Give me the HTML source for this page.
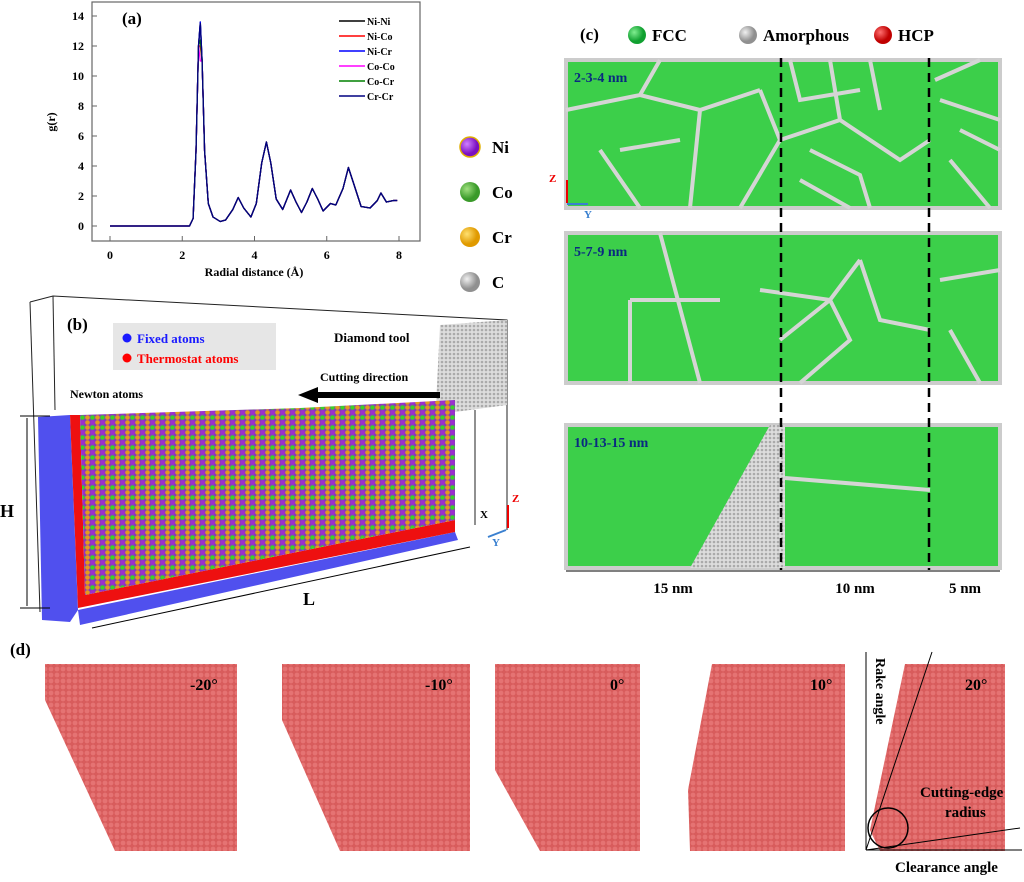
<!DOCTYPE html>
<html><head><meta charset="utf-8"><style>
body{margin:0;background:#fff;width:1024px;height:877px;overflow:hidden;font-family:"Liberation Serif",serif}
svg text{font-family:"Liberation Serif",serif;font-weight:bold}
</style></head><body>
<svg width="1024" height="877" viewBox="0 0 1024 877">
<defs>
<pattern id="mix" width="10" height="10" patternUnits="userSpaceOnUse">
<rect width="10" height="10" fill="#8a3ab8"/>
<circle cx="2.5" cy="2.5" r="2.3" fill="#9a2fd0"/><circle cx="7.5" cy="2.5" r="2.3" fill="#e39a20"/>
<circle cx="2.5" cy="7.5" r="2.3" fill="#3ccf2a"/><circle cx="7.5" cy="7.5" r="2.3" fill="#e39a20"/>
</pattern>
<pattern id="gry" width="4" height="4" patternUnits="userSpaceOnUse"><rect width="4" height="4" fill="#ddd"/><circle cx="2" cy="2" r="1.3" fill="#aaa"/></pattern>
<pattern id="redp" width="6" height="6" patternUnits="userSpaceOnUse"><rect width="6" height="6" fill="#d85c5c"/><circle cx="3" cy="3" r="2.4" fill="#e57373"/></pattern>
<radialGradient id="gPu" cx="35%" cy="35%"><stop offset="0" stop-color="#d080ff"/><stop offset="1" stop-color="#7a10c0"/></radialGradient>
<radialGradient id="gGr" cx="35%" cy="35%"><stop offset="0" stop-color="#a0e080"/><stop offset="1" stop-color="#3a9a2a"/></radialGradient>
<radialGradient id="gOr" cx="35%" cy="35%"><stop offset="0" stop-color="#ffe070"/><stop offset="1" stop-color="#e09a00"/></radialGradient>
<radialGradient id="gGy" cx="35%" cy="35%"><stop offset="0" stop-color="#f0f0f0"/><stop offset="1" stop-color="#909090"/></radialGradient>
<radialGradient id="gFcc" cx="35%" cy="35%"><stop offset="0" stop-color="#80ee90"/><stop offset="1" stop-color="#10a030"/></radialGradient>
<radialGradient id="gRed" cx="35%" cy="35%"><stop offset="0" stop-color="#ff7070"/><stop offset="1" stop-color="#c00000"/></radialGradient>
</defs>

<g id="chart">
<rect x="92" y="2" width="328" height="239" fill="none" stroke="#666" stroke-width="1.2"/>
<g id="ticks"></g>
<g id="lines"></g>
<text x="122" y="24" font-size="17">(a)</text>
<g id="legend"></g>
<text x="254" y="276" font-size="12" text-anchor="middle">Radial distance (Å)</text>
<text x="0" y="0" font-size="12" text-anchor="middle" transform="translate(55,122) rotate(-90)">g(r)</text>
</g>

<g>
<circle cx="470" cy="147" r="10" fill="url(#gPu)" stroke="#e0b000" stroke-width="1.5"/><text x="492" y="153" font-size="17">Ni</text>
<circle cx="470" cy="192" r="10" fill="url(#gGr)"/><text x="492" y="198" font-size="17">Co</text>
<circle cx="470" cy="237" r="10" fill="url(#gOr)"/><text x="492" y="243" font-size="17">Cr</text>
<circle cx="470" cy="282" r="10" fill="url(#gGy)"/><text x="492" y="288" font-size="17">C</text>
</g>

<g>
<polyline points="30,302 53,296 507,320 507,530 " fill="none" stroke="#222" stroke-width="1"/>
<line x1="30" y1="302" x2="40" y2="612" stroke="#222"/>
<line x1="53" y1="296" x2="55" y2="410" stroke="#222"/>
<line x1="475" y1="410" x2="475" y2="525" stroke="#222"/>
<text x="67" y="330" font-size="17">(b)</text>
<rect x="113" y="323" width="163" height="47" fill="#e6e6e6"/>
<circle cx="127" cy="338" r="4.5" fill="#1a1aff"/><text x="137" y="343" font-size="13" fill="#1a1aff">Fixed atoms</text>
<circle cx="127" cy="358" r="4.5" fill="#ff0000"/><text x="137" y="363" font-size="13" fill="#ff0000">Thermostat atoms</text>
<polygon points="440,325 507,320 507,405 455,412 436,405" fill="url(#gry)"/>
<text x="334" y="342" font-size="13">Diamond tool</text>
<text x="320" y="381" font-size="12">Cutting direction</text>
<polygon points="440,392 318,392 318,387 298,395 318,403 318,398 440,398" fill="#000"/>
<text x="70" y="398" font-size="12">Newton atoms</text>
<polygon points="38,417 70,415 78,610 70,622 42,620" fill="#5050ee"/>
<polygon points="78,610 455,532 458,540 80,625" fill="#5050ee"/>
<polygon points="70,415 80,415 85,595 455,520 455,532 78,608" fill="#ee1010"/>
<polygon points="80,415 300,408 455,400 455,520 85,595" fill="url(#mix)"/>
<line x1="20" y1="416" x2="50" y2="416" stroke="#000"/><line x1="20" y1="608" x2="50" y2="608" stroke="#000"/>
<line x1="27" y1="418" x2="27" y2="606" stroke="#000"/>
<text x="0" y="517" font-size="18">H</text>
<line x1="92" y1="628" x2="470" y2="547" stroke="#000"/>
<text x="303" y="605" font-size="18">L</text>
<line x1="508" y1="528" x2="508" y2="505" stroke="#e00" stroke-width="2"/><text x="512" y="502" font-size="11" fill="#e00">Z</text>
<line x1="506" y1="530" x2="488" y2="537" stroke="#3a80d0" stroke-width="2"/><text x="492" y="546" font-size="11" fill="#3a80d0">Y</text>
<text x="480" y="518" font-size="11">X</text>
</g>

<g>
<text x="580" y="40" font-size="17">(c)</text>
<circle cx="637" cy="35" r="9" fill="url(#gFcc)"/><text x="652" y="41" font-size="17">FCC</text>
<circle cx="748" cy="35" r="9" fill="url(#gGy)"/><text x="763" y="41" font-size="17">Amorphous</text>
<circle cx="883" cy="35" r="9" fill="url(#gRed)"/><text x="898" y="41" font-size="17">HCP</text>
<rect x="566" y="60" width="434" height="148" fill="#3ccf4a" stroke="#ccc" stroke-width="4"/>
<g stroke="#d5d5d5" stroke-width="4" fill="none">
<path d="M566,110 L640,95 L700,110 L760,90 M640,95 L660,60 M700,110 L690,208 M600,150 L640,208 M760,90 L780,140 L740,208 M780,140 L840,120 L900,160 L930,140 M840,120 L830,60 M800,180 L850,208 M870,60 L880,110 M940,100 L1000,120 M950,160 L990,208 M790,60 L800,100 L860,90 M810,150 L860,175 L870,208 M935,80 L980,60 M960,130 L1000,150 M620,150 L680,140"/>
</g>
<rect x="566" y="233" width="434" height="150" fill="#3ccf4a" stroke="#ccc" stroke-width="4"/>
<g stroke="#d5d5d5" stroke-width="4" fill="none">
<path d="M630,300 L720,300 M660,233 L700,383 M630,300 L630,383 M760,290 L830,300 L860,260 M780,340 L830,300 L850,340 L800,383 M860,260 L880,320 L930,330 M940,280 L1000,270 M950,330 L980,383"/>
</g>
<rect x="566" y="425" width="434" height="143" fill="#3ccf4a" stroke="#ccc" stroke-width="4"/>
<polygon points="770,425 785,425 785,568 690,568" fill="url(#gry)"/>
<path d="M785,478 L930,490" stroke="#d5d5d5" stroke-width="4"/>
<g stroke="#000" stroke-width="2.5" stroke-dasharray="9,6"><line x1="781" y1="58" x2="781" y2="570"/><line x1="929" y1="58" x2="929" y2="570"/></g>
<text x="574" y="82" font-size="14" fill="#0a2a80">2-3-4 nm</text>
<text x="574" y="256" font-size="14" fill="#0a2a80">5-7-9 nm</text>
<text x="574" y="447" font-size="14" fill="#0a2a80">10-13-15 nm</text>
<line x1="566" y1="571" x2="1000" y2="571" stroke="#000"/>
<text x="673" y="593" font-size="15" text-anchor="middle">15 nm</text>
<text x="855" y="593" font-size="15" text-anchor="middle">10 nm</text>
<text x="965" y="593" font-size="15" text-anchor="middle">5 nm</text>
<line x1="567" y1="203" x2="567" y2="180" stroke="#e00" stroke-width="2"/><text x="549" y="182" font-size="11" fill="#e00">Z</text>
<line x1="567" y1="204" x2="588" y2="204" stroke="#3a80d0" stroke-width="2"/><text x="584" y="218" font-size="11" fill="#3a80d0">Y</text>
</g>

<g>
<text x="10" y="655" font-size="17">(d)</text>
<polygon points="45,664 237,664 237,851 115,851 45,700" fill="url(#redp)"/>
<polygon points="282,664 470,664 470,851 340,851 282,720" fill="url(#redp)"/>
<polygon points="495,664 640,664 640,851 540,851 495,770" fill="url(#redp)"/>
<polygon points="712,664 845,664 845,851 690,851 688,790" fill="url(#redp)"/>
<polygon points="905,664 1005,664 1005,851 880,851 870,830" fill="url(#redp)"/>
<text x="190" y="690" font-size="16">-20°</text><text x="425" y="690" font-size="16">-10°</text>
<text x="610" y="690" font-size="16">0°</text><text x="810" y="690" font-size="16">10°</text><text x="965" y="690" font-size="16">20°</text>
<line x1="866" y1="850" x2="932" y2="652" stroke="#000"/><line x1="866" y1="850" x2="866" y2="652" stroke="#000"/>
<line x1="866" y1="850" x2="1020" y2="828" stroke="#000"/><line x1="866" y1="850" x2="1022" y2="850" stroke="#000"/>
<circle cx="888" cy="828" r="20" fill="none" stroke="#000" stroke-width="1.5"/>
<text x="0" y="0" font-size="14" transform="translate(876,658) rotate(90)">Rake angle</text>
<text x="920" y="797" font-size="15">Cutting-edge</text><text x="945" y="817" font-size="15">radius</text>
<text x="895" y="872" font-size="15">Clearance angle</text>
</g>
</svg>
<script>
const xTicks=[0,2,4,6,8];
const yTicks=[0,2,4,6,8,10,12,14];
const seriesNames=["Ni-Ni","Ni-Co","Ni-Cr","Co-Co","Co-Cr","Cr-Cr"];
const seriesColors=["#000000","#ff0000","#0000ff","#ff00ff","#008000","#000080"];
const rVals=[0,2.2,2.3,2.38,2.45,2.5,2.55,2.62,2.72,2.85,3.05,3.2,3.4,3.55,3.7,3.9,4.05,4.2,4.33,4.45,4.6,4.78,5.0,5.15,5.3,5.45,5.6,5.75,5.9,6.1,6.25,6.45,6.6,6.75,6.95,7.2,7.4,7.5,7.65,7.85,7.95];
const gBase=[0,0,0.5,5,12,13.6,11,5,1.5,0.6,0.3,0.4,1.1,1.9,1.2,0.6,1.5,4.2,5.6,4.2,1.8,1.1,2.4,1.6,0.9,1.6,2.5,1.8,1.0,1.5,1.4,2.5,3.9,2.8,1.3,1.2,1.7,2.2,1.6,1.7,1.7];
const peakVals=[13.6,12.0,13.6,11.0,12.4,13.5];
const X=v=>110+v*(399-110)/8, Y=v=>226-v*(226-16)/14;
const NS="http://www.w3.org/2000/svg";
const tg=document.getElementById('ticks');
xTicks.forEach(t=>{
 const l=document.createElementNS(NS,'line');l.setAttribute('x1',X(t));l.setAttribute('x2',X(t));l.setAttribute('y1',241);l.setAttribute('y2',236);l.setAttribute('stroke','#666');
 
 tg.appendChild(l);
 const s=document.createElementNS(NS,'text');s.setAttribute('x',X(t));s.setAttribute('y',259);s.setAttribute('font-size','12');s.setAttribute('text-anchor','middle');s.textContent=t;
 
 tg.appendChild(s);
});
yTicks.forEach(t=>{
 const l=document.createElementNS(NS,'line');l.setAttribute('x1',92);l.setAttribute('x2',97);l.setAttribute('y1',Y(t));l.setAttribute('y2',Y(t));l.setAttribute('stroke','#666');
 
 tg.appendChild(l);
 const s=document.createElementNS(NS,'text');s.setAttribute('x',84);s.setAttribute('y',Y(t)+4);s.setAttribute('font-size','12');s.setAttribute('text-anchor','end');s.textContent=t;
 
 tg.appendChild(s);
});
const lg=document.getElementById('lines'), leg=document.getElementById('legend');
seriesNames.forEach((n,i)=>{
 const pts=rVals.map((r,j)=>{let g=gBase[j];if(j===5)g=peakVals[i];return X(r).toFixed(1)+','+Y(g).toFixed(1)}).join(' ');
 const p=document.createElementNS(NS,'polyline');p.setAttribute('points',pts);p.setAttribute('fill','none');p.setAttribute('stroke',seriesColors[i]);p.setAttribute('stroke-width','1.3');p.setAttribute('stroke-linejoin','round');
 
 lg.appendChild(p);
 const y=21+i*15;
 const l=document.createElementNS(NS,'line');l.setAttribute('x1',339);l.setAttribute('x2',365);l.setAttribute('y1',y);l.setAttribute('y2',y);l.setAttribute('stroke',seriesColors[i]);l.setAttribute('stroke-width','1.5');
 
 leg.appendChild(l);
 const s=document.createElementNS(NS,'text');s.setAttribute('x',367);s.setAttribute('y',y+4);s.setAttribute('font-size','10');s.textContent=n;
 
 leg.appendChild(s);
});
</script>
</body></html>
